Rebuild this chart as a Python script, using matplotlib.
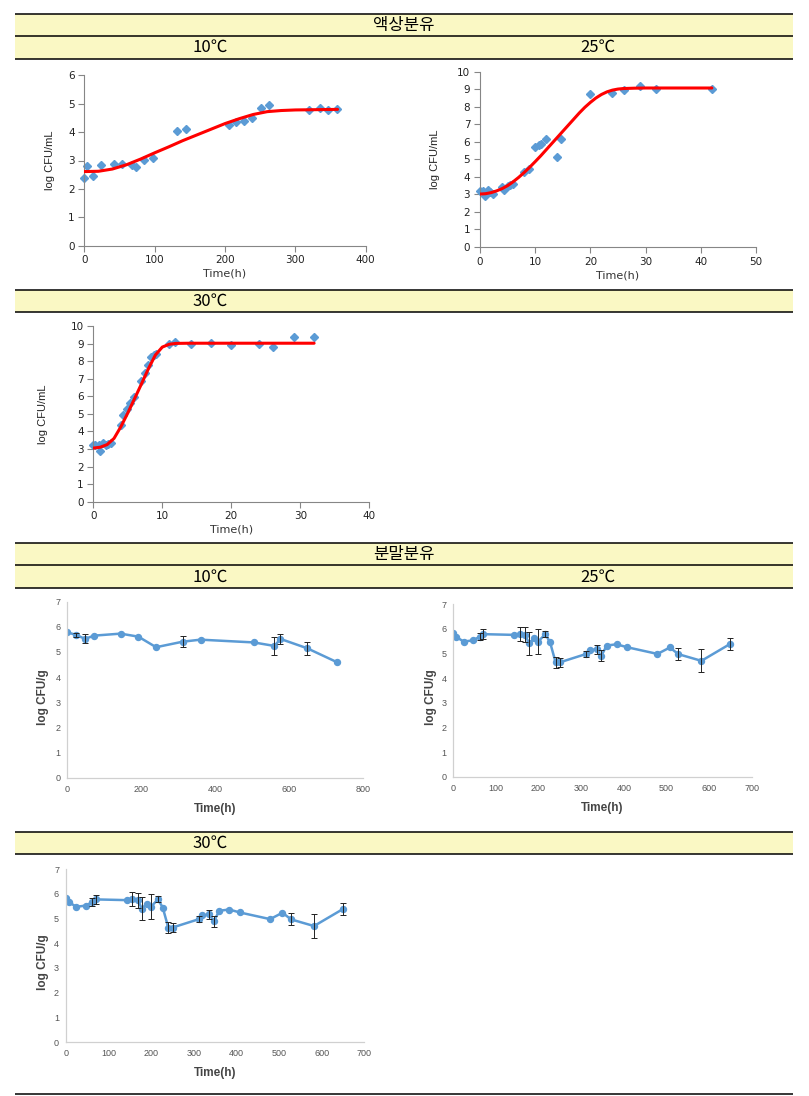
import matplotlib
matplotlib.use("Agg")
import matplotlib.pyplot as plt
from matplotlib.patches import Rectangle

plt.rcParams['font.family'] = ['DejaVu Sans']

# ---------------- data ----------------
# 액상분유 (liquid formula) – observed points and fitted curve
l10_time = [0, 4, 12, 24, 42, 53, 68, 73, 85, 97, 132, 144, 206, 216, 227, 239, 251, 263, 320, 335, 347, 359]
l10_log = [2.37, 2.81, 2.45, 2.83, 2.89, 2.89, 2.84, 2.77, 3.02, 3.10, 4.04, 4.10, 4.25, 4.37, 4.39, 4.51,
           4.84, 4.94, 4.77, 4.84, 4.78, 4.81]
l10_fit_t = [0, 20, 40, 60, 80, 100, 120, 140, 160, 180, 200, 220, 240, 260, 280, 300, 330, 360]
l10_fit_y = [2.61, 2.62, 2.70, 2.85, 3.05, 3.27, 3.48, 3.70, 3.90, 4.10, 4.30, 4.47, 4.62, 4.72, 4.76,
             4.78, 4.79, 4.80]

l25_time = [0, 0.5, 0.9, 1.5, 1.9, 2.3, 4.0, 4.4, 5.0, 5.5, 6.0, 8.0, 8.9, 10.0, 10.6, 11.0, 12.0, 14.0,
            14.7, 20.0, 24.0, 26.1, 29.0, 31.9, 42.0]
l25_log = [3.21, 3.21, 2.93, 3.25, 3.12, 3.02, 3.40, 3.25, 3.48, 3.54, 3.57, 4.30, 4.45, 5.72, 5.82, 5.86,
           6.16, 5.15, 6.14, 8.75, 8.80, 8.97, 9.20, 9.03, 9.01]
l25_fit_t = [0, 1, 2, 3, 4, 5, 6, 7, 8, 9, 10, 11, 12, 13, 14, 15, 16, 17, 18, 19, 20, 21, 22, 23, 24, 25,
             26, 28, 30, 42]
l25_fit_y = [3.02, 3.04, 3.10, 3.20, 3.33, 3.50, 3.72, 3.97, 4.25, 4.55, 4.87, 5.20, 5.55, 5.90, 6.25,
             6.60, 6.95, 7.30, 7.65, 7.97, 8.25, 8.50, 8.70, 8.85, 8.95, 9.01, 9.04, 9.06, 9.07, 9.07]

l30_time = [0, 0.3, 0.8, 1.0, 1.35, 1.9, 2.2, 2.55, 4.0, 4.35, 4.85, 5.3, 5.9, 6.9, 7.5, 7.9, 8.3, 8.8,
            9.1, 10.9, 11.9, 14.1, 17.0, 20.0, 24.0, 26.0, 29.1, 32.0]
l30_log = [3.24, 3.24, 3.24, 2.87, 3.36, 3.23, 3.28, 3.36, 4.36, 4.93, 5.28, 5.64, 5.94, 6.85, 7.30, 7.76,
           8.25, 8.37, 8.39, 9.00, 9.09, 8.98, 9.05, 8.94, 9.00, 8.80, 9.37, 9.37]
l30_fit_t = [0, 1, 2, 3, 4, 5, 6, 7, 8, 9, 10, 11, 12, 14, 20, 32]
l30_fit_y = [3.05, 3.10, 3.25, 3.60, 4.27, 5.05, 5.88, 6.72, 7.58, 8.35, 8.80, 8.96, 9.01, 9.02, 9.02, 9.02]

# 분말분유 (powdered formula) – mean ± error (0 = bar hidden under marker)
p10_time = [0, 24, 48, 72, 144, 192, 240, 312, 360, 504, 560, 576, 648, 728]
p10_log = [5.78, 5.68, 5.52, 5.65, 5.73, 5.61, 5.19, 5.41, 5.49, 5.38, 5.24, 5.52, 5.15, 4.60]
p10_err = [0, 0.08, 0.18, 0, 0, 0, 0, 0.22, 0, 0, 0.37, 0.20, 0.25, 0]

p25_time = [0, 6, 24, 47, 62, 70, 143, 156, 168, 178, 190, 199, 216, 227, 240, 250, 312, 320, 336, 347,
            360, 383, 408, 479, 508, 528, 582, 649]
p25_log = [5.84, 5.68, 5.48, 5.53, 5.68, 5.78, 5.75, 5.79, 5.75, 5.41, 5.61, 5.48, 5.78, 5.45, 4.64, 4.64,
           4.98, 5.13, 5.17, 4.90, 5.32, 5.37, 5.25, 4.98, 5.24, 4.97, 4.70, 5.38]
p25_err = [0, 0, 0, 0, 0.15, 0.19, 0, 0.27, 0.30, 0.47, 0, 0.50, 0.12, 0, 0.22, 0.19,
           0.12, 0, 0.19, 0.22, 0, 0, 0, 0, 0, 0.24, 0.47, 0.25]

p30_time = list(p25_time)
p30_log = list(p25_log)
p30_err = list(p25_err)

header_main = ["액상분유", "분말분유"]
header_temp = ["10℃", "25℃", "30℃"]

# ---------------- layout ----------------
W, H = 809, 1096
fig = plt.figure(figsize=(W / 100, H / 100), dpi=100)

BLUE = '#5B9BD5'
YELLOW = '#FAF8C4'
KFONT = ['Noto Sans CJK KR', 'DejaVu Sans']


def rect(l, r, t, b):
    return [l / W, 1 - b / H, (r - l) / W, (b - t) / H]


# Overlay for the table-like header bands
ov = fig.add_axes([0, 0, 1, 1], zorder=0)
ov.set_xlim(0, W)
ov.set_ylim(H, 0)
ov.axis('off')

XL, XR = 15.5, 793
bands = [(14.3, 36), (36, 59.3), (290.3, 312.3), (543.3, 565.3), (565.3, 588.3), (832, 854.3)]
for y0, y1 in bands:
    ov.add_patch(Rectangle((XL, y0), XR - XL, y1 - y0, facecolor=YELLOW, edgecolor='none'))
for y in [14.3, 36, 59.3, 290.3, 312.3, 543.3, 565.3, 588.3, 832, 854.3, 1094]:
    ov.plot([XL, XR], [y, y], color='black', lw=1.1, solid_capstyle='butt')

texts = [(header_main[0], 404, 25.2), (header_temp[0], 210, 47.6), (header_temp[1], 598, 47.6),
         (header_temp[2], 210, 301.3), (header_main[1], 404, 554.3), (header_temp[0], 210, 576.8),
         (header_temp[1], 598, 576.8), (header_temp[2], 210, 843.2)]
for s, x, y in texts:
    ov.text(x, y, s, ha='center', va='center', fontsize=12, family=KFONT, color='black')


def liquid(box, t, y, ft, fy, xmax, xstep, ymax, ylab_dx):
    l, r, tp, b = box
    ax = fig.add_axes(rect(l, r, tp, b), zorder=2)
    ax.patch.set_alpha(0)
    wpx, hpx = r - l, b - tp
    ax.plot(t, y, linestyle='none', marker='D', ms=4.3, color=BLUE, mec=BLUE, zorder=2, clip_on=False)
    ax.plot(ft, fy, color='#FF0000', lw=2.2, zorder=3, solid_capstyle='round')
    ax.set_xlim(0, xmax)
    ax.set_ylim(0, ymax)
    ax.set_xticks(list(range(0, xmax + 1, xstep)))
    ax.set_yticks(list(range(0, ymax + 1)))
    for s in ['top', 'right']:
        ax.spines[s].set_visible(False)
    for s in ['left', 'bottom']:
        ax.spines[s].set_color('#868686')
        ax.spines[s].set_linewidth(0.8)
    ax.tick_params(direction='out', length=4, width=0.8, color='#868686', labelsize=7.5,
                   labelcolor='#222222', pad=3)
    ax.text(0.5, -28 / hpx, 'Time(h)', transform=ax.transAxes, ha='center', va='center',
            fontsize=8, color='#333333')
    ax.text(-ylab_dx / wpx, 0.5, 'log CFU/mL', transform=ax.transAxes, ha='center', va='center',
            rotation=90, fontsize=8, color='#222222', family=['Liberation Sans Narrow', 'Liberation Sans'])
    return ax


def powder(box, t, y, e, xmax, xstep, ylab_dx):
    l, r, tp, b = box
    ax = fig.add_axes(rect(l, r, tp, b), zorder=2)
    ax.patch.set_alpha(0)
    wpx, hpx = r - l, b - tp
    ax.plot(t, y, color=BLUE, lw=1.8, marker='o', ms=4.3, mec=BLUE, zorder=2)
    et = [ti for ti, ei in zip(t, e) if ei > 0]
    ey = [yi for yi, ei in zip(y, e) if ei > 0]
    ee = [ei for ei in e if ei > 0]
    ax.errorbar(et, ey, yerr=ee, fmt='none', ecolor='#222222', elinewidth=0.7, capsize=2.5,
                capthick=0.7, zorder=3)
    ax.set_xlim(0, xmax)
    ax.set_ylim(0, 7)
    ax.set_xticks(list(range(0, xmax + 1, xstep)))
    ax.set_yticks(list(range(0, 8)))
    for s in ['top', 'right']:
        ax.spines[s].set_visible(False)
    for s in ['left', 'bottom']:
        ax.spines[s].set_color('#D0D0D0')
        ax.spines[s].set_linewidth(0.9)
    ax.tick_params(length=0, labelsize=6.5, labelcolor='#555555', pad=5)
    for lab in ax.get_xticklabels() + ax.get_yticklabels():
        lab.set_family('Liberation Sans')
    ax.text(0.5, -31 / hpx, 'Time(h)', transform=ax.transAxes, ha='center', va='center',
            fontsize=8.5, fontweight='bold', color='#444444', family='Liberation Sans')
    ax.text(-ylab_dx / wpx, 0.46, 'log CFU/g', transform=ax.transAxes, ha='center', va='center',
            rotation=90, fontsize=8.5, fontweight='bold', color='#444444', family='Liberation Sans')
    return ax


liquid((84.3, 365.7, 75.3, 245.7), l10_time, l10_log, l10_fit_t, l10_fit_y, 400, 100, 6, 34)
liquid((480, 756, 71.7, 247), l25_time, l25_log, l25_fit_t, l25_fit_y, 50, 10, 10, 45)
liquid((93.3, 369.3, 326, 501.7), l30_time, l30_log, l30_fit_t, l30_fit_y, 40, 10, 10, 50)

powder((67.3, 363.3, 601.7, 777.7), p10_time, p10_log, p10_err, 800, 200, 24)
powder((453.3, 751.7, 604, 777), p25_time, p25_log, p25_err, 700, 100, 22)
powder((66, 364.3, 869.3, 1042), p30_time, p30_log, p30_err, 700, 100, 23)

fig.savefig('out.png', dpi=100, facecolor='white')
